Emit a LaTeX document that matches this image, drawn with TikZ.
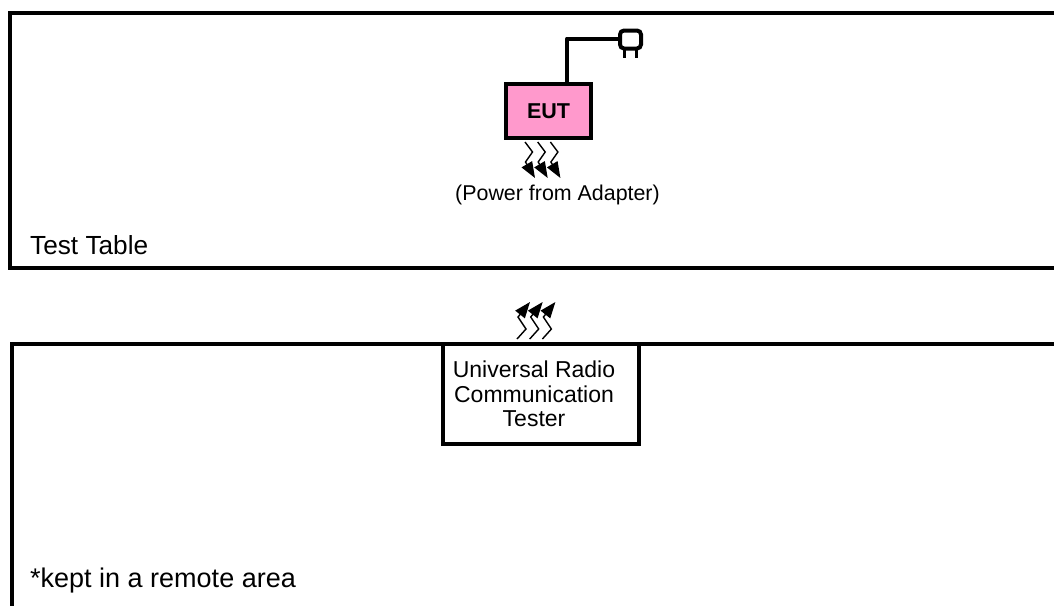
\documentclass[tikz,border=0pt]{standalone}
\usepackage{fontspec}
\setmainfont{Liberation Sans}
\usetikzlibrary{arrows.meta}
\definecolor{eutpink}{HTML}{FF99CC}
\tikzset{
  x=1pt,y=-1pt,
  frameline/.style={draw=black,line width=4pt,line cap=butt,line join=miter},
  wire/.style={draw=black,line width=4pt,line join=round},
  zig/.style={draw=black,line width=1.4pt,-{Triangle[length=16pt,width=12pt]}},
  biglabel/.style={anchor=base west,inner sep=0pt},
  smalllabel/.style={inner sep=0pt}
}
\begin{document}
\begin{tikzpicture}
\useasboundingbox (0,0) rectangle (1054,606);
\coordinate (tr) at (1054,13);
\coordinate (tl) at (10,13);
\coordinate (bl) at (10,268);
\coordinate (br) at (1054,268);
\path[frameline] (tr) -- (tl) -- (bl) -- (br);
\coordinate (lr) at (1054,344);
\coordinate (ll) at (12,344);
\coordinate (lb) at (12,606);
\path[frameline] (lr) -- (ll) -- (lb);
\node[frameline,fill=white,minimum width=196pt,minimum height=100pt,inner sep=0pt,anchor=north west,outer sep=0pt] (urct) at (443,344) {};
\node[smalllabel,align=center,font=\fontsize{23}{24.5}\selectfont,anchor=north] (urctlabel) at (534,361) {Universal Radio\\Communication\\Tester};
\node[draw=black,line width=4pt,fill=eutpink,minimum width=85pt,minimum height=54pt,inner sep=0pt,outer sep=0pt,font=\bfseries\fontsize{21.5}{24}\selectfont] (eut) at (548.5,111) {\raisebox{-2pt}{EUT}};
\coordinate (corner) at (567,38.5);
\node[draw=black,line width=4pt,rounded corners=4pt,minimum width=21pt,minimum height=18pt,inner sep=0pt,outer sep=0pt] (plug) at (630.5,39.5) {};
\draw[wire] (567,84) -- (corner) -- (plug.west |- corner);
\draw[line width=3pt] (624,48) -- (624,58) (636,48) -- (636,58);
\foreach \d in {0,12.7,25.4}{
  \draw[zig] (525+\d,142) -- (532.5+\d,152) -- (525.5+\d,162) -- (535+\d,178);
  \draw[zig] (517+\d,339) -- (526+\d,329) -- (518+\d,317) -- (530+\d,302);
}
\node[smalllabel,font=\fontsize{21.4}{26}\selectfont,anchor=base] (power) at (557.5,200) {(Power from Adapter)};
\node[biglabel,font=\fontsize{26.2}{30}\selectfont] (table) at (30,254) {Test Table};
\node[biglabel,font=\fontsize{27}{30}\selectfont] (remote) at (30,587) {*kept in a remote area};
\end{tikzpicture}
\end{document}
